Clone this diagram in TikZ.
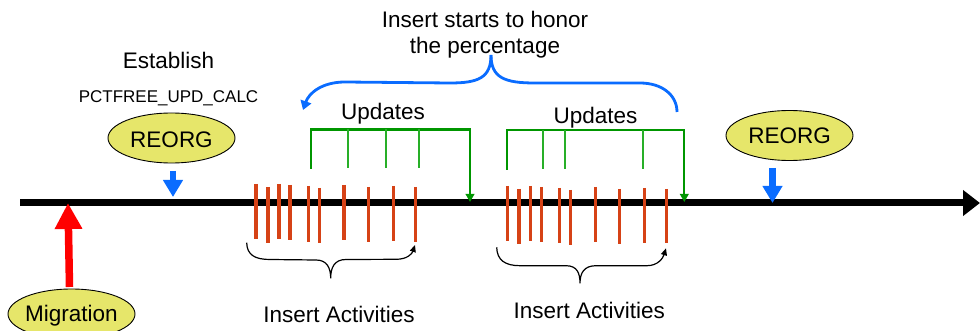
\documentclass[tikz,border=0pt]{standalone}
\usepackage{fontspec}
\setmainfont{Liberation Sans}
\usetikzlibrary{arrows.meta,shapes.geometric}
\definecolor{ellfill}{RGB}{230,230,106}
\definecolor{barred}{RGB}{214,66,22}
\definecolor{bluec}{RGB}{10,108,255}
\definecolor{greenc}{RGB}{0,150,0}
\definecolor{greent}{RGB}{40,175,40}
\tikzset{
  lbl/.style={anchor=base,inner sep=0pt,font=\fontsize{22.5}{25}\selectfont},
  smlbl/.style={anchor=base,inner sep=0pt,font=\fontsize{17}{20}\selectfont},
  oval/.style={ellipse,draw=black,line width=0.9pt,fill=ellfill,minimum width=127pt,minimum height=50pt,inner sep=0pt},
  bar/.style={draw=barred,line width=3.4pt},
  grn/.style={draw=greenc,line width=2.2pt},
  grntick/.style={draw=greent,line width=2pt},
  grnarrow/.style={grn,-{Triangle[width=8.5pt,length=8pt]}},
  blk/.style={draw=black,line width=1.2pt,-{Triangle[width=6pt,length=7pt]}},
  bluearr/.style={draw=bluec,line width=6.7pt,-{Triangle[width=19pt,length=17pt]}},
  bluecurve/.style={draw=bluec,line width=2.8pt},
}
\begin{document}
\begin{tikzpicture}[x=1pt,y=-1pt]
\useasboundingbox (0,0) rectangle (980,331);
% timeline
\coordinate (t0) at (20,203);
\coordinate (t1) at (980,203);
\draw[line width=7pt,-{Triangle[width=25pt,length=17pt]}] (t0) -- (t1);

% top texts
\node[lbl] (est) at (168.5,69) {Establish};
\node[smlbl] (pct) at (168.5,103) {PCTFREE\_UPD\_CALC};
\node[lbl] (hon1) at (485,27.3) {Insert starts to honor};
\node[lbl] (hon2) at (485,54) {the percentage};

% REORG 1
\node[oval] (reorg1) at (171.5,138) {};
\node[lbl] (reorg1t) at (171.5,147.7) {REORG};
\coordinate (b1s) at (173,171);
\coordinate (b1e) at (173,197);
\draw[bluearr] (b1s) -- (b1e);

% REORG 2
\node[oval] (reorg2) at (789.5,135.5) {};
\node[lbl] (reorg2t) at (789.5,144) {REORG};
\coordinate (b2s) at (772.5,168);
\coordinate (b2e) at (772.5,203);
\draw[bluearr] (b2s) -- (b2e);

% Migration
\node[oval] (migr) at (71.5,314) {};
\node[lbl] (migrt) at (71.5,321.7) {Migration};
\coordinate (m0) at (69.5,287);
\coordinate (m1) at (68,203);
\draw[draw=red,line width=7.5pt,-{Triangle[width=26pt,length=26pt]}] (m0) -- (m1);

% insert bars group 1
\foreach \i/\x/\a/\b in {1/256/184/239,2/268/187/243,3/279/184/239,4/290/185/240,5/308.3/186/242,6/319.3/188/243,7/344/185/240,8/368.3/187/242,9/393.7/186/241,10/415.3/187/242}{
  \coordinate (ga\i t) at (\x,\a);
  \coordinate (ga\i b) at (\x,\b);
  \draw[bar] (ga\i t) -- (ga\i b);
}
% insert bars group 2
\foreach \i/\x/\a/\b in {1/507.7/186/241,2/519/189/244,3/530.3/186/241,4/541.3/187/242,5/559.7/188/243,6/570.3/190/245,7/595.3/187/242,8/619.7/189/244,9/644.7/188/243,10/666.7/189/243}{
  \coordinate (gb\i t) at (\x,\a);
  \coordinate (gb\i b) at (\x,\b);
  \draw[bar] (gb\i t) -- (gb\i b);
}

% Updates 1
\node[lbl] (upd1) at (383,119.5) {Updates};
\coordinate (u1l) at (310.7,169);
\coordinate (u1r) at (470,129.5);
\coordinate (u1e) at (470,202);
\draw[grnarrow] (u1l) |- (u1r) -- (u1e);
\foreach \x in {347.7,386,419.3}{ \draw[grntick] (\x,129.5) -- (\x,168); }

% Updates 2
\node[lbl] (upd2) at (595.5,124) {Updates};
\coordinate (u2l) at (507.3,170);
\coordinate (u2r) at (684.3,130);
\coordinate (u2e) at (684.3,202);
\draw[grnarrow] (u2l) |- (u2r) -- (u2e);
\foreach \x in {543.3,565,643.3}{ \draw[grntick] (\x,130) -- (\x,169); }

% blue brace
\coordinate (bt) at (491,55);
\coordinate (bl) at (303,110);
\coordinate (br) at (677,112);
\draw[bluecurve,-{Triangle[width=11pt,length=9pt]}] (bt) .. controls (491,78) and (478,83) .. (450,83) -- (345,82) .. controls (322,82) and (309,93) .. (bl);
\draw[bluecurve] (bt) .. controls (491,78) and (505,83) .. (535,83) -- (640,83) .. controls (662,83) and (677,95) .. (br);

% black braces
\coordinate (k1s) at (246.7,242.7);
\coordinate (k1e) at (415,245);
\draw[blk] (k1s) .. controls (247,255) and (255,259.5) .. (270,259.5) -- (316,260) .. controls (327,260) and (330.7,268) .. (330.7,278.3) .. controls (330.7,268) and (334,259.5) .. (346,259.5) -- (396,259.3) .. controls (407,259.3) and (412,254) .. (k1e);
\coordinate (k2s) at (496.7,247.3);
\coordinate (k2e) at (666,248.3);
\draw[blk] (k2s) .. controls (497,260) and (505,265.7) .. (520,265.7) -- (566,265.7) .. controls (577,265.7) and (580,273) .. (580,283.3) .. controls (580,273) and (584,265.7) .. (596,265.7) -- (647,265.7) .. controls (658,265.7) and (663,258) .. (k2e);

\node[lbl] (ia1) at (339,322.7) {Insert Activities};
\node[lbl] (ia2) at (589.3,318.3) {Insert Activities};
\end{tikzpicture}
\end{document}
